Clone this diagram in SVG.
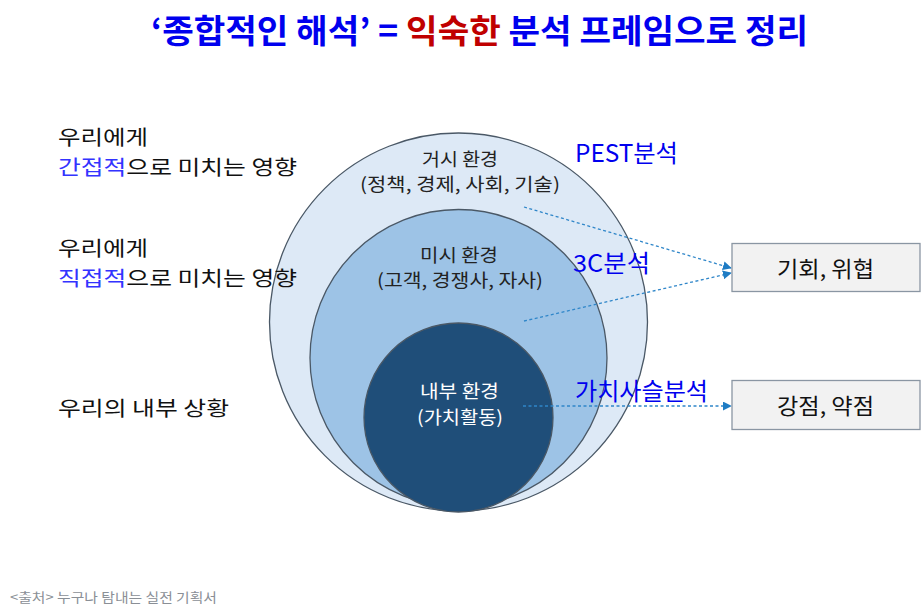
<svg xmlns="http://www.w3.org/2000/svg" width="921" height="615" viewBox="0 0 921 615">
<defs>
<style>
text{font-family:"Noto Sans CJK KR","Noto Sans",sans-serif;}
.title{font-size:33px;font-weight:bold;fill:#0000ee;}
.left{font-size:20.5px;fill:#111;}
.hl{fill:#3333ff;}
.ctxt{font-size:18px;fill:#222;text-anchor:middle;}
.wtxt{font-size:18px;fill:#ffffff;text-anchor:middle;}
.tool{font-size:24px;fill:#0000ee;}
.box{fill:#f2f2f2;stroke:#8a96a3;stroke-width:1.3;}
.btxt{font-size:22px;fill:#111;text-anchor:middle;}
.conn{stroke:#2f86c9;stroke-width:1.3;stroke-dasharray:3 2.5;fill:none;}
.ring{stroke:#4a5866;stroke-width:1.3;}
</style>
<marker id="ah2" viewBox="0 0 10 10" refX="9" refY="5" markerWidth="9" markerHeight="9" orient="auto" markerUnits="userSpaceOnUse">
<path d="M0,0 L10,5 L0,10 z" fill="#1f7cc4"/>
</marker>
</defs>
<rect width="921" height="615" fill="#ffffff"/>

<text class="title" x="151" y="43" textLength="657" lengthAdjust="spacingAndGlyphs">‘종합적인 해석’ = <tspan fill="#c00000">익숙한</tspan> 분석 프레임으로 정리</text>

<g id="macro">
<circle class="ring" cx="458.5" cy="322" r="189" fill="#dde9f6"/>
<text class="ctxt" x="460" y="166" textLength="76" lengthAdjust="spacingAndGlyphs">거시 환경</text>
<text class="ctxt" x="460" y="191" textLength="200" lengthAdjust="spacingAndGlyphs">(정책, 경제, 사회, 기술)</text>
</g>
<g id="micro">
<circle class="ring" cx="458.5" cy="358" r="148.5" fill="#9dc3e6"/>
<text class="ctxt" x="459" y="262" textLength="78" lengthAdjust="spacingAndGlyphs">미시 환경</text>
<text class="ctxt" x="460" y="287" textLength="166" lengthAdjust="spacingAndGlyphs">(고객, 경쟁사, 자사)</text>
</g>
<g id="internal">
<circle class="ring" cx="458.5" cy="417.5" r="94.5" fill="#1f4e79"/>
<text class="wtxt" x="459.5" y="398" textLength="79" lengthAdjust="spacingAndGlyphs">내부 환경</text>
<text class="wtxt" x="460" y="424" textLength="86" lengthAdjust="spacingAndGlyphs">(가치활동)</text>
</g>

<g id="left-labels">
<text class="left" x="58" y="145" textLength="90" lengthAdjust="spacingAndGlyphs">우리에게</text>
<text class="left" x="58" y="175" textLength="239" lengthAdjust="spacingAndGlyphs"><tspan class="hl">간접적</tspan>으로 미치는 영향</text>
<text class="left" x="58" y="256" textLength="90" lengthAdjust="spacingAndGlyphs">우리에게</text>
<text class="left" x="58" y="286" textLength="239" lengthAdjust="spacingAndGlyphs"><tspan class="hl">직접적</tspan>으로 미치는 영향</text>
<text class="left" x="58" y="416" textLength="171" lengthAdjust="spacingAndGlyphs">우리의 내부 상황</text>
</g>

<g id="tools">
<text class="tool" x="575" y="162" textLength="103" lengthAdjust="spacingAndGlyphs">PEST분석</text>
<text class="tool" x="573" y="272" textLength="77" lengthAdjust="spacingAndGlyphs">3C분석</text>
<text class="tool" x="575" y="400" textLength="133" lengthAdjust="spacingAndGlyphs">가치사슬분석</text>
</g>

<g id="connectors">
<line class="conn" x1="524" y1="207" x2="731" y2="268" marker-end="url(#ah2)"/>
<line class="conn" x1="524" y1="321" x2="731" y2="273" marker-end="url(#ah2)"/>
<line class="conn" x1="523" y1="406" x2="731" y2="406" marker-end="url(#ah2)"/>
</g>

<g id="opp-threat">
<rect class="box" x="732" y="243.5" width="188" height="48"/>
<text class="btxt" x="825.5" y="277" textLength="97" lengthAdjust="spacingAndGlyphs">기회, 위협</text>
</g>
<g id="str-weak">
<rect class="box" x="732" y="380.5" width="188" height="49"/>
<text class="btxt" x="825.5" y="414" textLength="97" lengthAdjust="spacingAndGlyphs">강점, 약점</text>
</g>

<text x="10" y="602" font-size="13" fill="#8a8f96" textLength="207" lengthAdjust="spacingAndGlyphs">&lt;출처&gt; 누구나 탐내는 실전 기획서</text>
</svg>
